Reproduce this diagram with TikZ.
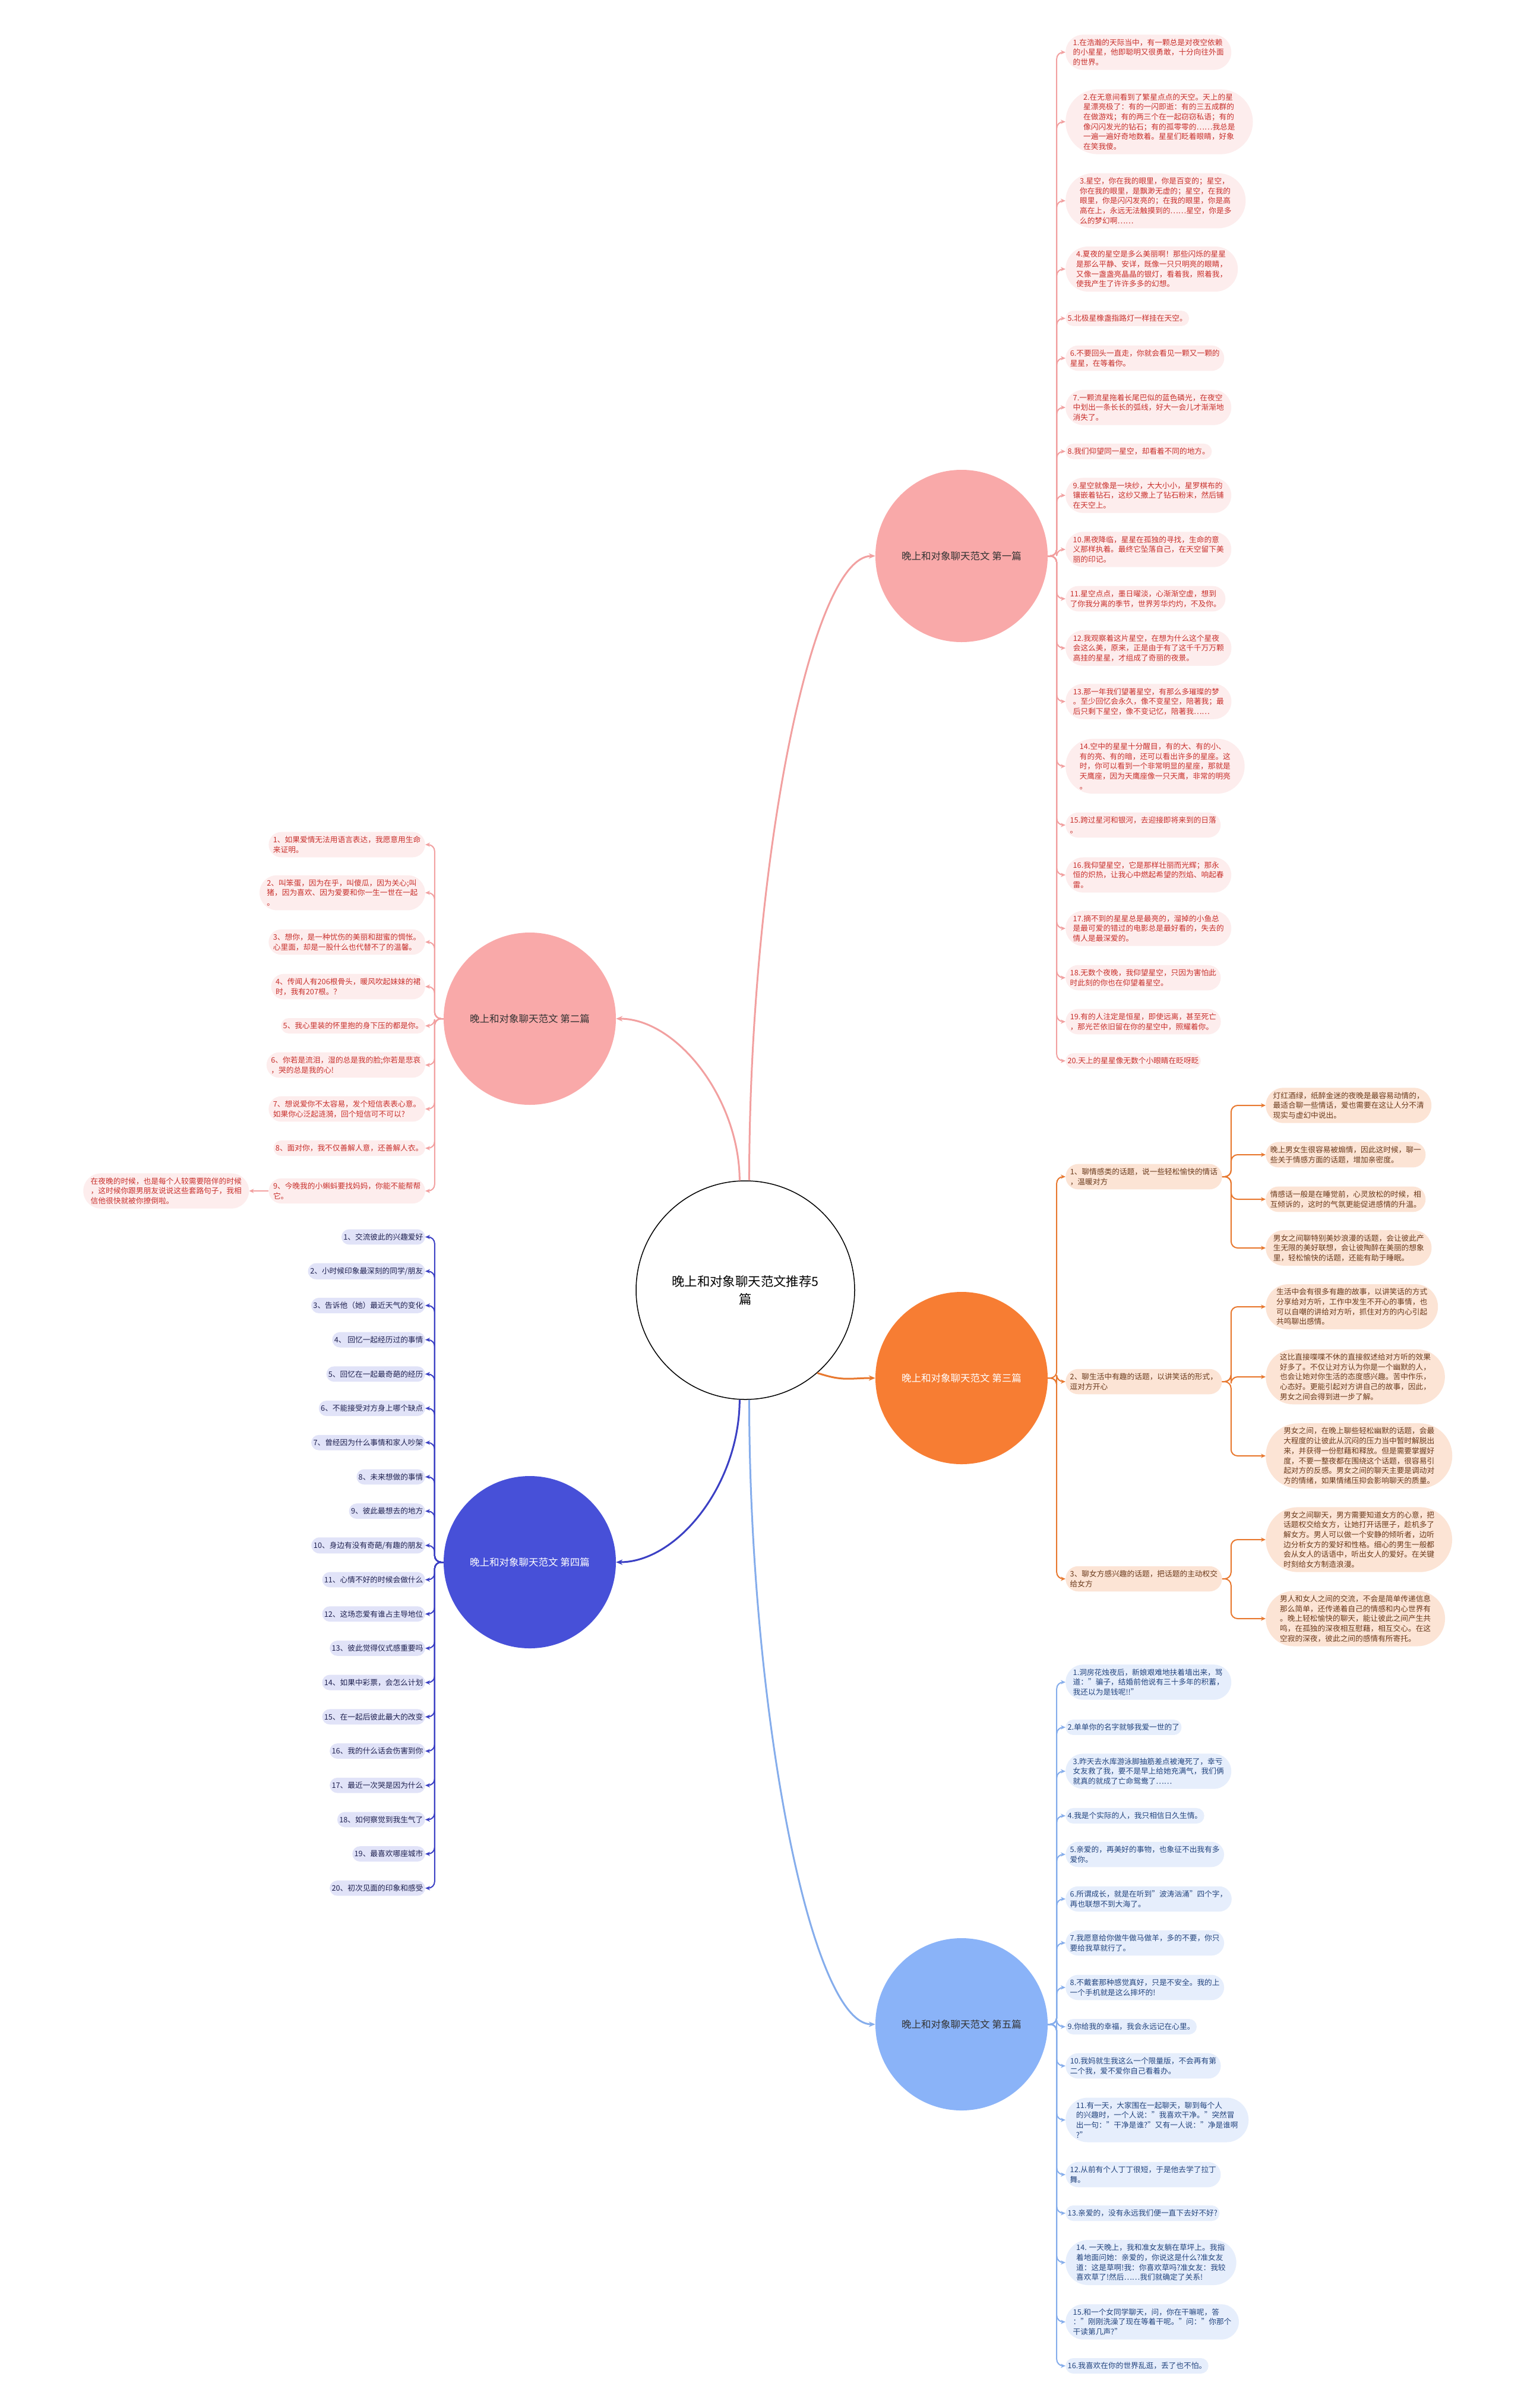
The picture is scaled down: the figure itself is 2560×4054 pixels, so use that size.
\documentclass[tikz,border=0pt]{standalone}
\usepackage{fontspec}
\setmainfont{Noto Sans CJK SC}
\usetikzlibrary{shapes.misc,arrows.meta}
\definecolor{pkline}{HTML}{F2A0A0}
\definecolor{pknode}{HTML}{F9A9A9}
\definecolor{pkfill}{HTML}{FDEDED}
\definecolor{pktext}{HTML}{C8302C}
\definecolor{orline}{HTML}{E8782F}
\definecolor{ornode}{HTML}{F77D33}
\definecolor{orfill}{HTML}{FCE4D5}
\definecolor{ortext}{HTML}{6B3A1C}
\definecolor{dbline}{HTML}{3B40C4}
\definecolor{dbnode}{HTML}{4750D8}
\definecolor{dbfill}{HTML}{E1E3F8}
\definecolor{dbtext}{HTML}{1F2150}
\definecolor{lbline}{HTML}{85ADEC}
\definecolor{lbnode}{HTML}{8AB3F8}
\definecolor{lbfill}{HTML}{E6EEFC}
\definecolor{lbtext}{HTML}{23447E}
\definecolor{nodetext}{HTML}{333333}
\newcommand\leaffont{\fontsize{12.7}{16.7}\selectfont}
\newcommand\brfont{\fontsize{16.5}{20}\selectfont}
\newcommand\ctrfont{\fontsize{21.4}{30}\selectfont}
\begin{document}
\begin{tikzpicture}[x=1pt,y=-1pt,
  leaf/.style={rounded rectangle, inner xsep=2pt, inner ysep=7pt, align=left, font=\leaffont},
  lfA/.style={leaf, fill=pkfill, text=pktext},
  lfB/.style={leaf, fill=orfill, text=ortext},
  lfC/.style={leaf, fill=dbfill, text=dbtext},
  lfD/.style={leaf, fill=lbfill, text=lbtext},
  branch/.style={circle, minimum size=290pt, inner sep=0pt, font=\brfont},
  link/.style={line width=2pt, rounded corners=11pt, -{Stealth[length=8pt,width=7pt]}},
  mainlink/.style={line width=3pt, -{Stealth[length=11pt,width=9pt]}}
]
\fill[white] (0,0) rectangle (2560,4054);
\useasboundingbox (0,0) rectangle (2560,4054);

% centre
\node[circle, draw=black, line width=1.5pt, fill=white, minimum size=368pt, inner sep=0pt, font=\ctrfont, align=center] (C) at (1255,2172) {晚上和对象聊天范文推荐5\\篇};

% branch nodes
\node[branch, fill=pknode, text=nodetext] (B1) at (1619,936) {晚上和对象聊天范文 第一篇};
\node[branch, fill=pknode, text=nodetext] (B2) at (892,1715) {晚上和对象聊天范文 第二篇};
\node[branch, fill=ornode, text=white] (B3) at (1619,2320) {晚上和对象聊天范文 第三篇};
\node[branch, fill=dbnode, text=white] (B4) at (892,2630) {晚上和对象聊天范文 第四篇};
\node[branch, fill=lbnode, text=nodetext] (B5) at (1619,3408) {晚上和对象聊天范文 第五篇};

% main connectors
\draw[mainlink, pkline] (C.88) .. controls (1262,1462) and (1365,936) .. (B1.west);
\draw[mainlink, pkline] (C.93) .. controls (1245,1850) and (1140,1715) .. (B2.east);
\draw[mainlink, orline] (C.-49) .. controls (1420,2326) and (1430,2320) .. (B3.west);
\draw[mainlink, dbline] (C.-93) .. controls (1245,2500) and (1140,2630) .. (B4.east);
\draw[mainlink, lbline] (C.-88) .. controls (1262,2880) and (1365,3408) .. (B5.west);

% ---------- branch 1 ----------
\node[lfA, anchor=west] (A1) at (1794,88) {1.在浩瀚的天际当中，有一颗总是对夜空依赖\\的小星星，他即聪明又很勇敢，十分向往外面\\的世界。};
\node[lfA, anchor=west] (A2) at (1794,205) {2.在无意间看到了繁星点点的天空。天上的星\\星漂亮极了：有的一闪即逝：有的三五成群的\\在做游戏；有的两三个在一起窃窃私语；有的\\像闪闪发光的钻石；有的孤零零的……我总是\\一遍一遍好奇地数着。星星们眨着眼睛，好象\\在笑我傻。};
\node[lfA, anchor=west] (A3) at (1794,338) {3.星空，你在我的眼里，你是百变的；星空，\\你在我的眼里，是飘渺无虚的；星空，在我的\\眼里，你是闪闪发亮的；在我的眼里，你是高\\高在上，永远无法触摸到的……星空，你是多\\么的梦幻啊……};
\node[lfA, anchor=west] (A4) at (1794,453) {4.夏夜的星空是多么美丽啊！那些闪烁的星星\\是那么平静、安详，既像一只只明亮的眼睛，\\又像一盏盏亮晶晶的银灯，看着我，照着我，\\使我产生了许许多多的幻想。};
\node[lfA, anchor=west] (A5) at (1794,536) {5.北极星橡盏指路灯一样挂在天空。};
\node[lfA, anchor=west] (A6) at (1794,603) {6.不要回头一直走，你就会看见一颗又一颗的\\星星，在等着你。};
\node[lfA, anchor=west] (A7) at (1794,686) {7.一颗流星拖着长尾巴似的蓝色磷光，在夜空\\中划出一条长长的弧线，好大一会儿才渐渐地\\消失了。};
\node[lfA, anchor=west] (A8) at (1794,760) {8.我们仰望同一星空，却看着不同的地方。};
\node[lfA, anchor=west] (A9) at (1794,834) {9.星空就像是一块纱，大大小小，星罗棋布的\\镶嵌着钻石，这纱又撒上了钻石粉末，然后铺\\在天空上。};
\node[lfA, anchor=west] (A10) at (1794,925) {10.黑夜降临，星星在孤独的寻找，生命的意\\义那样执着。最终它坠落自己，在天空留下美\\丽的印记。};
\node[lfA, anchor=west] (A11) at (1794,1008) {11.星空点点，墨日曜淡，心渐渐空虚，想到\\了你我分离的季节，世界芳华灼灼，不及你。};
\node[lfA, anchor=west] (A12) at (1794,1091) {12.我观察着这片星空，在想为什么这个星夜\\会这么美，原来，正是由于有了这千千万万颗\\高挂的星星，才组成了奇丽的夜景。};
\node[lfA, anchor=west] (A13) at (1794,1181) {13.那一年我们望著星空，有那么多璀璨的梦\\。至少回忆会永久，像不变星空，陪著我；最\\后只剩下星空，像不变记忆，陪著我……};
\node[lfA, anchor=west] (A14) at (1794,1290) {14.空中的星星十分醒目，有的大、有的小、\\有的亮、有的暗，还可以看出许多的星座。这\\时，你可以看到一个非常明显的星座，那就是\\天鹰座，因为天鹰座像一只天鹰，非常的明亮\\。};
\node[lfA, anchor=west] (A15) at (1794,1389) {15.跨过星河和银河，去迎接即将来到的日落\\。};
\node[lfA, anchor=west] (A16) at (1794,1473) {16.我仰望星空，它是那样壮丽而光辉；那永\\恒的炽热，让我心中燃起希望的烈焰、响起春\\雷。};
\node[lfA, anchor=west] (A17) at (1794,1563) {17.摘不到的星星总是最亮的，溜掉的小鱼总\\是最可爱的错过的电影总是最好看的，失去的\\情人是最深爱的。};
\node[lfA, anchor=west] (A18) at (1794,1646) {18.无数个夜晚，我仰望星空，只因为害怕此\\时此刻的你也在仰望着星空。};
\node[lfA, anchor=west] (A19) at (1794,1720) {19.有的人注定是恒星，即使远离，甚至死亡\\，那光芒依旧留在你的星空中，照耀着你。};
\node[lfA, anchor=west] (A20) at (1794,1786) {20.天上的星星像无数个小眼睛在眨呀眨};
\foreach \i in {1,...,20} \draw[link, pkline] (B1.east) -- ++(15,0) |- (A\i.west);

% ---------- branch 2 ----------
\node[lfA, anchor=east] (P1) at (716,1422) {1、如果爱情无法用语言表达，我愿意用生命\\来证明。};
\node[lfA, anchor=east] (P2) at (716,1503) {2、叫笨蛋，因为在乎，叫傻瓜，因为关心;叫\\猪，因为喜欢、因为爱要和你一生一世在一起\\。};
\node[lfA, anchor=east] (P3) at (716,1586) {3、想你，是一种忧伤的美丽和甜蜜的惆怅。\\心里面，却是一股什么也代替不了的温馨。};
\node[lfA, anchor=east] (P4) at (716,1661) {4、传闻人有206根骨头，暖风吹起妹妹的裙\\时，我有207根。？};
\node[lfA, anchor=east] (P5) at (716,1727) {5、我心里装的怀里抱的身下压的都是你。};
\node[lfA, anchor=east] (P6) at (716,1793) {6、你若是流泪，湿的总是我的脸;你若是悲哀\\，哭的总是我的心!};
\node[lfA, anchor=east] (P7) at (716,1867) {7、想说爱你不太容易，发个短信表表心意。\\如果你心泛起涟漪，回个短信可不可以?};
\node[lfA, anchor=east] (P8) at (716,1933) {8、面对你，我不仅善解人意，还善解人衣。};
\node[lfA, anchor=east] (P9) at (716,2005) {9、今晚我的小蝌蚪要找妈妈，你能不能帮帮\\它。};
\foreach \i in {1,...,9} \draw[link, pkline] (B2.west) -- ++(-15,0) |- (P\i.east);
\node[lfA, anchor=east] (P9x) at ([xshift=-33pt]P9.west) {在夜晚的时候，也是每个人较需要陪伴的时候\\，这时候你跟男朋友说说这些套路句子，我相\\信他很快就被你撩倒啦。};
\draw[link, pkline] (P9.west) -- (P9x.east);

% ---------- branch 3 ----------
\node[lfB, anchor=west] (S1) at (1794,1981) {1、聊情感类的话题，说一些轻松愉快的情话\\，温暖对方};
\node[lfB, anchor=west] (S2) at (1794,2326) {2、聊生活中有趣的话题，以讲笑话的形式，\\逗对方开心};
\node[lfB, anchor=west] (S3) at (1794,2658) {3、聊女方感兴趣的话题，把话题的主动权交\\给女方};
\foreach \i in {1,2,3} \draw[link, orline] (B3.east) -- ++(15,0) |- (S\i.west);
\node[lfB, anchor=west] (Ta) at (2131,1861) {灯红酒绿，纸醉金迷的夜晚是最容易动情的，\\最适合聊一些情话，爱也需要在这让人分不清\\现实与虚幻中说出。};
\node[lfB, anchor=west] (Tb) at (2131,1944) {晚上男女生很容易被煽情，因此这时候，聊一\\些关于情感方面的话题，增加亲密度。};
\node[lfB, anchor=west] (Tc) at (2131,2019) {情感话一般是在睡觉前，心灵放松的时候，相\\互倾诉的，这时的气氛更能促进感情的升温。};
\node[lfB, anchor=west] (Td) at (2131,2101) {男女之间聊特别美妙浪漫的话题，会让彼此产\\生无限的美好联想，会让彼陶醉在美丽的想象\\里，轻松愉快的话题，还能有助于睡眠。};
\node[lfB, anchor=west] (Te) at (2131,2200) {生活中会有很多有趣的故事，以讲笑话的方式\\分享给对方听，工作中发生不开心的事情，也\\可以自嘲的讲给对方听，抓住对方的内心引起\\共鸣聊出感情。};
\node[lfB, anchor=west] (Tf) at (2131,2318) {这比直接喋喋不休的直接叙述给对方听的效果\\好多了。不仅让对方认为你是一个幽默的人，\\也会让她对你生活的态度感兴趣。苦中作乐，\\心态好。更能引起对方讲自己的故事，因此，\\男女之间会得到进一步了解。};
\node[lfB, anchor=west] (Tg) at (2131,2451) {男女之间，在晚上聊些轻松幽默的话题，会最\\大程度的让彼此从沉闷的压力当中暂时解脱出\\来，并获得一份慰藉和释放。但是需要掌握好\\度，不要一整夜都在围绕这个话题，很容易引\\起对方的反感。男女之间的聊天主要是调动对\\方的情绪，如果情绪压抑会影响聊天的质量。};
\node[lfB, anchor=west] (Th) at (2131,2592) {男女之间聊天，男方需要知道女方的心意，把\\话题权交给女方，让她打开话匣子，趁机多了\\解女方。男人可以做一个安静的倾听者，边听\\边分析女方的爱好和性格。细心的男生一般都\\会从女人的话语中，听出女人的爱好。在关键\\时刻给女方制造浪漫。};
\node[lfB, anchor=west] (Ti) at (2131,2725) {男人和女人之间的交流，不会是简单传递信息\\那么简单，还传递着自己的情感和内心世界有\\。晚上轻松愉快的聊天，能让彼此之间产生共\\鸣，在孤独的深夜相互慰藉，相互交心。在这\\空寂的深夜，彼此之间的感情有所寄托。};
\foreach \t in {Ta,Tb,Tc,Td} \draw[link, orline] (S1.east) -- ++(15,0) |- (\t.west);
\foreach \t in {Te,Tf,Tg} \draw[link, orline] (S2.east) -- ++(15,0) |- (\t.west);
\foreach \t in {Th,Ti} \draw[link, orline] (S3.east) -- ++(15,0) |- (\t.west);

% ---------- branch 4 ----------
\foreach \t [count=\i] in {{1、交流彼此的兴趣爱好},{2、小时候印象最深刻的同学/朋友},{3、告诉他（她）最近天气的变化},{4、 回忆一起经历过的事情},{5、回忆在一起最奇葩的经历},{6、不能接受对方身上哪个缺点},{7、曾经因为什么事情和家人吵架},{8、未来想做的事情},{9、彼此最想去的地方},{10、身边有没有奇葩/有趣的朋友},{11、心情不好的时候会做什么},{12、这场恋爱有谁占主导地位},{13、彼此觉得仪式感重要吗},{14、如果中彩票，会怎么计划},{15、在一起后彼此最大的改变},{16、我的什么话会伤害到你},{17、最近一次哭是因为什么},{18、如何察觉到我生气了},{19、最喜欢哪座城市},{20、初次见面的印象和感受}}
  \node[lfC, anchor=east] (D\i) at (716,{2082.5+(\i-1)*57.7}) {\t};
\foreach \i in {1,...,20} \draw[link, dbline] (B4.west) -- ++(-15,0) |- (D\i.east);

% ---------- branch 5 ----------
\node[lfD, anchor=west] (E1) at (1794,2832) {1.洞房花烛夜后，新娘艰难地扶着墙出来，骂\\道："骗子，结婚前他说有三十多年的积蓄，\\我还以为是钱呢!!"};
\node[lfD, anchor=west] (E2) at (1794,2908) {2.单单你的名字就够我爱一世的了};
\node[lfD, anchor=west] (E3) at (1794,2982) {3.昨天去水库游泳脚抽筋差点被淹死了，幸亏\\女友救了我，要不是早上给她充满气，我们俩\\就真的就成了亡命鸳鸯了……};
\node[lfD, anchor=west] (E4) at (1794,3057) {4.我是个实际的人，我只相信日久生情。};
\node[lfD, anchor=west] (E5) at (1794,3122) {5.亲爱的，再美好的事物，也象征不出我有多\\爱你。};
\node[lfD, anchor=west] (E6) at (1794,3197) {6.所谓成长，就是在听到"波涛汹涌"四个字，\\再也联想不到大海了。};
\node[lfD, anchor=west] (E7) at (1794,3271) {7.我愿意给你做牛做马做羊，多的不要，你只\\要给我草就行了。};
\node[lfD, anchor=west] (E8) at (1794,3346) {8.不戴套那种感觉真好，只是不安全。我的上\\一个手机就是这么摔坏的!};
\node[lfD, anchor=west] (E9) at (1794,3412) {9.你给我的幸福，我会永远记在心里。};
\node[lfD, anchor=west] (E10) at (1794,3478) {10.我妈就生我这么一个限量版，不会再有第\\二个我，爱不爱你自己看着办。};
\node[lfD, anchor=west] (E11) at (1794,3569) {11.有一天，大家围在一起聊天，聊到每个人\\的兴趣时，一个人说："我喜欢干净。"突然冒\\出一句："干净是谁?"又有一人说："净是谁啊\\?"};
\node[lfD, anchor=west] (E12) at (1794,3661) {12.从前有个人丁丁很短，于是他去学了拉丁\\舞。};
\node[lfD, anchor=west] (E13) at (1794,3726) {13.亲爱的，没有永远我们便一直下去好不好?};
\node[lfD, anchor=west] (E14) at (1794,3809) {14. 一天晚上，我和准女友躺在草坪上。我指\\着地面问她：亲爱的，你说这是什么?准女友\\道：这是草啊!我：你喜欢草吗?准女友：我较\\喜欢草了!然后……我们就确定了关系!};
\node[lfD, anchor=west] (E15) at (1794,3909) {15.和一个女同学聊天，问，你在干嘛呢，答\\："刚刚洗澡了现在等着干呢。"问："你那个\\干读第几声?"};
\node[lfD, anchor=west] (E16) at (1794,3983) {16.我喜欢在你的世界乱逛，丢了也不怕。};
\foreach \i in {1,...,16} \draw[link, lbline] (B5.east) -- ++(15,0) |- (E\i.west);
\end{tikzpicture}
\end{document}
